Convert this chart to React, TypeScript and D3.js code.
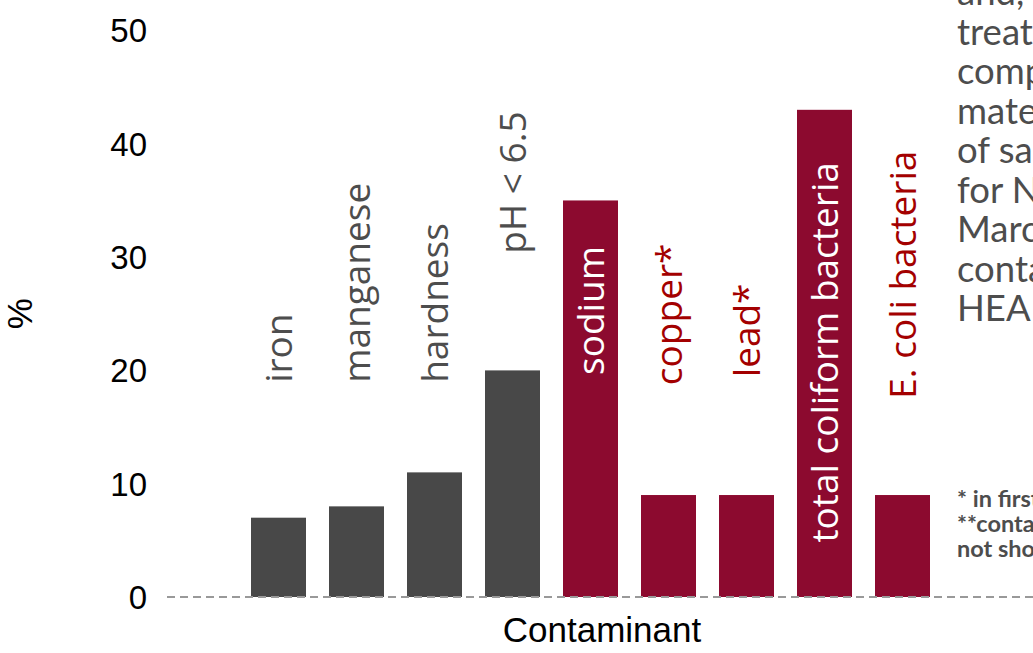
import * as d3 from "d3";

// contaminants, share of samples over the limit (%)
const categories = [
  "iron",
  "manganese",
  "hardness",
  "pH < 6.5",
  "sodium",
  "copper*",
  "lead*",
  "total coliform bacteria",
  "E. coli bacteria",
];
const values = [7, 8, 11, 20, 35, 9, 9, 43, 9];
const group = ["aesthetic", "aesthetic", "aesthetic", "aesthetic", "health", "health", "health", "health", "health"];
// where each label starts, in % units
const labelAt = [18.9, 18.9, 18.9, 30.3, 19.6, 18.7, 19.4, 4.8, 17.5];
const yTicks = [0, 10, 20, 30, 40, 50];

const noteLines = [
  "and, where possible,",
  "treatment systems",
  "compared with",
  "materials tested",
  "of samples tested",
  "for NH wells,",
  "March 2019",
  "contact NH DES",
  "HEALTH",
];
const footLines = ["* in first draw samples", "**contaminants", "not shown"];

const W = 1033;
const H = 653;
const GREY = "#484848";
const RED = "#8c0a2f";
const RED_TEXT = "#a30000";
const TEXT_GREY = "#4d4d4d";

const App = () => {
  const x = d3.scaleBand<string>().domain(categories).range([212, 969]).paddingInner(0.295).paddingOuter(0.5);
  const y = d3.scaleLinear().domain([0, 50]).range([597, 30.5]);

  return (
    <div style={{ position: "fixed", left: 0, top: 0 }}>
      <svg width={W} height={H} style={{ display: "block", background: "#fff" }}>
        {/* bars */}
        {categories.map((c, i) => (
          <rect
            key={c}
            x={x(c)}
            y={y(values[i])}
            width={x.bandwidth()}
            height={y(0) - y(values[i])}
            fill={group[i] === "health" ? RED : GREY}
          />
        ))}

        {/* baseline */}
        <line x1={167} x2={W} y1={y(0)} y2={y(0)} stroke="#999" strokeWidth={2} strokeDasharray="8,5" />

        {/* bar labels */}
        {categories.map((c, i) => {
          const cx = x(c)! + x.bandwidth() / 2;
          const cy = y(labelAt[i]);
          const inside = labelAt[i] < values[i];
          const fill = inside ? "#fff" : group[i] === "health" ? RED_TEXT : TEXT_GREY;
          return (
            <text
              key={c}
              transform={`translate(${cx},${cy}) rotate(-90)`}
              dy="0.36em"
              fontFamily="'Open Sans'"
              fontSize={37}
              fill={fill}
              textAnchor="start"
            >
              {c}
            </text>
          );
        })}

        {/* y axis ticks */}
        {yTicks.map((t) => (
          <text
            key={t}
            x={147}
            y={y(t)}
            dy="0.36em"
            textAnchor="end"
            fontFamily="'Liberation Sans', Arial"
            fontSize={33}
            fill="#000"
          >
            {t}
          </text>
        ))}

        {/* axis titles */}
        <text
          transform={`translate(19,${(y(0) + y(50)) / 2}) rotate(-90)`}
          dy="0.36em"
          textAnchor="middle"
          fontFamily="'Liberation Sans', Arial"
          fontSize={35}
          fill="#000"
        >
          %
        </text>
        <text x={602} y={642} textAnchor="middle" fontFamily="'Liberation Sans', Arial" fontSize={35} fill="#000">
          Contaminant
        </text>

        {/* side note, runs off the right edge */}
        {noteLines.map((l, i) => (
          <text key={i} x={957} y={5 + i * 39.5} fontFamily="Lato" fontSize={36.5} fill={TEXT_GREY}>
            {l}
          </text>
        ))}
        {footLines.map((l, i) => (
          <text key={i} x={957} y={507 + i * 25} fontFamily="Lato" fontWeight="bold" fontSize={23.5} fill={TEXT_GREY}>
            {l}
          </text>
        ))}
      </svg>
    </div>
  );
};

export default App;
